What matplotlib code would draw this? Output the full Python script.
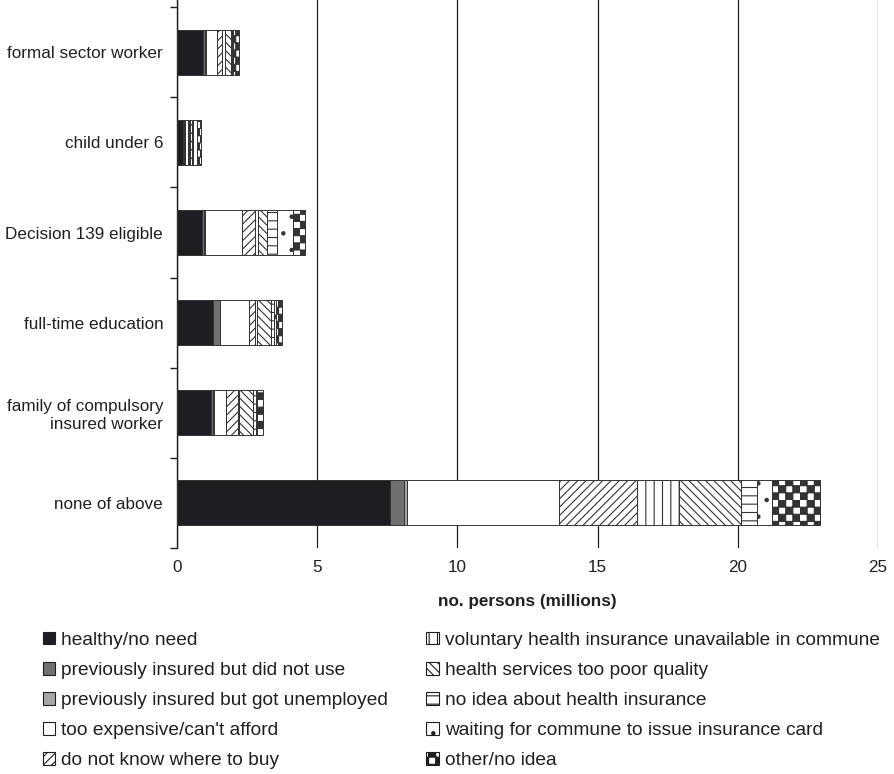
import numpy as np
import matplotlib
matplotlib.use('Agg')
import matplotlib.pyplot as plt
import matplotlib.hatch as mhatch
from matplotlib.patches import Patch
from matplotlib.ticker import FixedLocator

plt.rcParams['font.family'] = ['Liberation Sans', 'DejaVu Sans']
plt.rcParams['hatch.linewidth'] = 0.8
plt.rcParams['hatch.color'] = '#1e1e22'


# checker hatch, takes the place of the '*' pattern
class CheckerHatch(mhatch.HatchPatternBase):
    def __init__(self, hatch, density):
        self.n = 14 if '*' in hatch else 0
        self.cells = [(i, j) for i in range(self.n) for j in range(self.n) if (i + j) % 2 == 0]
        self.num_vertices = len(self.cells) * 5

    def set_vertices_and_codes(self, vertices, codes):
        s = 1.0 / self.n
        k = 0
        for i, j in self.cells:
            x0, y0 = i * s, j * s
            vertices[k:k + 5] = [(x0, y0), (x0 + s, y0), (x0 + s, y0 + s), (x0, y0 + s), (x0, y0)]
            codes[k:k + 5] = [1, 2, 2, 2, 79]
            k += 5


mhatch._hatch_types = [CheckerHatch if t is mhatch.Stars else t for t in mhatch._hatch_types]

# data (millions of persons)
groups = ['none of above', 'family of compulsory\ninsured worker', 'full-time education',
          'Decision 139 eligible', 'child under 6', 'formal sector worker']
reasons = ['healthy/no need', 'previously insured but did not use',
           'previously insured but got unemployed', "too expensive/can't afford",
           'do not know where to buy', 'voluntary health insurance unavailable in commune',
           'health services too poor quality', 'no idea about health insurance',
           'waiting for commune to issue insurance card', 'other/no idea']

healthy = [7.6, 1.2, 1.27, 0.89, 0.2, 0.93]
not_use = [0.5, 0.08, 0.25, 0.07, 0.05, 0.07]
unemployed = [0.12, 0.04, 0.03, 0.04, 0.05, 0.03]
expensive = [5.4, 0.42, 1.0, 1.32, 0.08, 0.38]
dont_know = [2.8, 0.42, 0.22, 0.46, 0.05, 0.2]
voluntary = [1.5, 0.05, 0.1, 0.12, 0.05, 0.1]
poor_quality = [2.2, 0.5, 0.5, 0.3, 0.05, 0.2]
no_idea = [0.57, 0.1, 0.1, 0.35, 0.05, 0.05]
waiting = [0.54, 0.05, 0.05, 0.57, 0.12, 0.05]
other = [1.7, 0.2, 0.22, 0.46, 0.15, 0.2]

series = [healthy, not_use, unemployed, expensive, dont_know,
          voluntary, poor_quality, no_idea, waiting, other]
styles = [('#1e1e22', None), ('#707072', None), ('#a6a6a8', None), ('white', None),
          ('white', '////'), ('white', '||'), ('white', '\\\\\\\\'), ('white', '--'),
          ('white', '.'), ('white', '*')]

fig = plt.figure(figsize=(8.95, 7.74), dpi=100)
ax = fig.add_axes([0.1978, 0.292, 0.783, 0.708])

y = np.arange(len(groups))
left = np.zeros(len(groups))
handles = []
for vals, (fc, hatch), name in zip(series, styles, reasons):
    ax.barh(y, vals, left=left, height=0.5, color=fc, hatch=hatch,
            edgecolor='#333333', linewidth=0.7, zorder=3)
    left += np.array(vals)
    handles.append(Patch(facecolor=fc, hatch=hatch, edgecolor='#1e1e22', linewidth=0.8, label=name))

ax.set_xlim(0, 25)
ax.set_ylim(-0.5, 5.58)
ax.set_xticks([0, 5, 10, 15, 20, 25])
ax.xaxis.grid(True, color='#1e1e22', linewidth=0.9)
ax.set_axisbelow(True)
ax.tick_params(axis='x', length=0, labelsize=12.3, pad=9, labelcolor='#231f20')
ax.set_yticks(y)
ax.set_yticklabels(groups, fontsize=12.3, color='#231f20')
ax.tick_params(axis='y', which='major', length=0, pad=10)
ax.yaxis.set_minor_locator(FixedLocator(np.arange(-0.5, 6, 1)))
ax.tick_params(axis='y', which='minor', length=5, width=1, color='#1e1e22')
for s in ['top', 'right', 'bottom']:
    ax.spines[s].set_visible(False)
ax.spines['left'].set_color('#1e1e22')
ax.spines['left'].set_linewidth(1)
ax.set_xlabel('no. persons (millions)', fontsize=12.3, fontweight='bold', labelpad=13,
              color='#231f20')

fig.legend(handles=handles, ncol=2, loc='upper left', bbox_to_anchor=(0.048, 0.184),
           frameon=False, fontsize=13.8, handlelength=0.65, handleheight=0.65,
           handletextpad=0.3, columnspacing=2.0, labelspacing=0.68,
           borderpad=0, borderaxespad=0, labelcolor='#231f20')

fig.savefig('out.png', dpi=100)
